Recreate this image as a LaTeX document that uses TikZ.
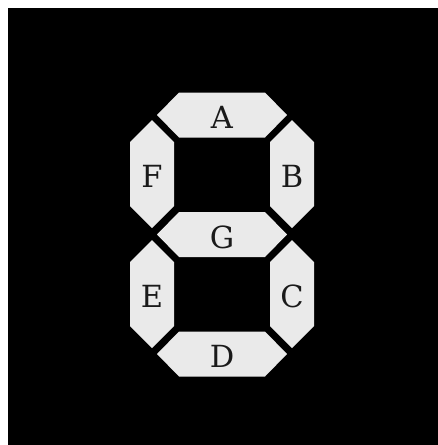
\documentclass[tikz,border=0pt]{standalone}
\usepackage{fontspec}
\setmainfont{DejaVu Serif}
\usepackage{xcolor}
\definecolor{segfill}{HTML}{EAEAEA}
\definecolor{segtext}{HTML}{1A1A1A}

% horizontal segment: name, centre, letter
\newcommand{\hsegment}[3]{%
  \fill[segment, shift={#2}] (-65,0) -- (-43,-22.5) -- (43,-22.5) -- (65,0)
    -- (43,22.5) -- (-43,22.5) -- cycle;
  \node[seg label] (#1) at #2 {#3};
}
% vertical segment: name, centre, letter
\newcommand{\vsegment}[3]{%
  \fill[segment, shift={#2}] (0,-54) -- (22,-32) -- (22,32) -- (0,54)
    -- (-22,32) -- (-22,-32) -- cycle;
  \node[seg label] (#1) at #2 {#3};
}

\begin{document}
\begin{tikzpicture}[
    x=1pt, y=-1pt,
    % segment look
    segment/.style={fill=segfill},
    % letters on the segments
    seg label/.style={text=segtext, font=\fontsize{30.5}{32}\selectfont, inner sep=0pt, yshift=-2.5pt}
  ]

  % --- Background ---
  \useasboundingbox (0,0) rectangle (438,445);
  \fill[white] (0,0) rectangle (438,445);
  \fill[black] (8,8) rectangle (438,445);

  % --- Horizontal segments ---
  \hsegment{A}{(222,115)}{A}
  \hsegment{G}{(222,234.5)}{G}
  \hsegment{D}{(222,354)}{D}

  % --- Vertical segments ---
  \vsegment{F}{(152,174)}{F}
  \vsegment{B}{(292,174)}{B}
  \vsegment{E}{(152,294)}{E}
  \vsegment{C}{(292,294)}{C}

\end{tikzpicture}
\end{document}
